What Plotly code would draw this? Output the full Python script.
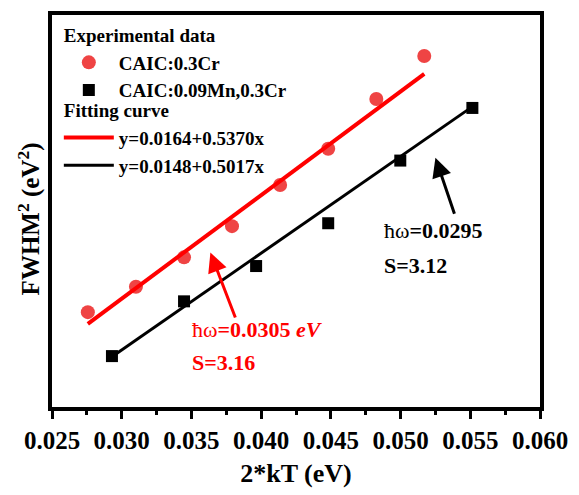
import plotly.graph_objects as go

# 2kT (eV) and FWHM^2 (eV^2) for the two samples
x_cr = [0.02757, 0.03102, 0.03447, 0.03791, 0.04136, 0.04481, 0.04826, 0.05170]
y_cr = [0.03181, 0.03313, 0.03465, 0.03627, 0.03840, 0.04028, 0.04286, 0.04509]

x_mn = [0.02930, 0.03447, 0.03964, 0.04481, 0.04998, 0.05515]
y_mn = [0.02953, 0.03237, 0.03420, 0.03642, 0.03967, 0.04240]

# linear fits: y = a + b*x
fit_cr = (0.0164, 0.5370)
fit_mn = (0.0148, 0.5017)

FONT = "Liberation Serif, Times New Roman, serif"


def fit_line(xs, coef):
    a, b = coef
    xe = [xs[0], xs[-1]]
    return xe, [a + b * v for v in xe]


fig = go.Figure()

fig.add_trace(go.Scatter(
    x=x_cr, y=y_cr, mode="markers", name="CAIC:0.3Cr",
    marker=dict(symbol="circle", size=14, color="#EF4444"),
    legend="legend", legendgroup="exp",
    legendgrouptitle=dict(text="Experimental data"),
))
fig.add_trace(go.Scatter(
    x=x_mn, y=y_mn, mode="markers", name="CAIC:0.09Mn,0.3Cr",
    marker=dict(symbol="square", size=12, color="black"),
    legend="legend", legendgroup="exp",
))

xl, yl = fit_line(x_cr, fit_cr)
fig.add_trace(go.Scatter(
    x=xl, y=yl, mode="lines", name="y=0.0164+0.5370x",
    line=dict(color="#FF0000", width=4),
    legend="legend2", legendgroup="fit",
    legendgrouptitle=dict(text="Fitting curve"),
))
xl, yl = fit_line(x_mn, fit_mn)
fig.add_trace(go.Scatter(
    x=xl, y=yl, mode="lines", name="y=0.0148+0.5017x",
    line=dict(color="black", width=3),
    legend="legend2", legendgroup="fit",
))

# arrows pointing at the fitted lines
fig.add_annotation(x=0.03636, y=0.03490, ax=0.03819, ay=0.03145,
                   xref="x", yref="y", axref="x", ayref="y", text="",
                   showarrow=True, arrowhead=2, arrowsize=1.3, arrowwidth=3,
                   arrowcolor="#FF0000")
fig.add_annotation(x=0.05250, y=0.03982, ax=0.05390, ay=0.03683,
                   xref="x", yref="y", axref="x", ayref="y", text="",
                   showarrow=True, arrowhead=2, arrowsize=1.3, arrowwidth=3,
                   arrowcolor="black")

lab_font_r = dict(family=FONT, size=22, color="#FF0000", weight="bold")
lab_font_k = dict(family=FONT, size=22, color="black", weight="bold")
fig.add_annotation(x=0.03489, y=0.03090, xanchor="left", yanchor="middle",
                   text="<span style='font-weight:normal'>ħω</span>=0.0305 <i>eV</i>",
                   showarrow=False, font=lab_font_r)
fig.add_annotation(x=0.03489, y=0.02918, xanchor="left", yanchor="middle",
                   text="S=3.16", showarrow=False, font=lab_font_r)
fig.add_annotation(x=0.04864, y=0.03602, xanchor="left", yanchor="middle",
                   text="<span style='font-weight:normal'>ħω</span>=0.0295",
                   showarrow=False, font=lab_font_k)
fig.add_annotation(x=0.04864, y=0.03424, xanchor="left", yanchor="middle",
                   text="S=3.12", showarrow=False, font=lab_font_k)

# y-axis title, placed as a rotated label beside the left axis
fig.add_annotation(x=-0.046, y=0.48, xref="paper", yref="paper",
                   xanchor="center", yanchor="middle", textangle=-90,
                   text="FWHM<sup>2</sup> (eV<sup>2</sup>)", showarrow=False,
                   font=dict(family=FONT, size=25, color="black", weight="bold"))

legend_style = dict(
    xanchor="left", yanchor="top",
    bgcolor="rgba(0,0,0,0)", borderwidth=0,
    font=dict(family=FONT, size=19, color="black", weight="bold"),
    grouptitlefont=dict(family=FONT, size=19, color="black", weight="bold"),
    traceorder="grouped", tracegroupgap=0, itemwidth=50,
)

fig.update_layout(
    width=579, height=495,
    margin=dict(l=52, r=30, t=11, b=83),
    paper_bgcolor="white", plot_bgcolor="white",
    font=dict(family=FONT, size=20, color="black", weight="bold"),
    showlegend=True,
    legend=dict(x=0.014, y=0.998, **legend_style),
    legend2=dict(x=0.014, y=0.806, **legend_style),
)

fig.update_xaxes(
    range=[0.025, 0.060], dtick=0.005, tick0=0.025, tickformat=".3f",
    showline=True, linewidth=4, linecolor="black", mirror=True,
    ticks="outside", ticklen=8, tickwidth=3, tickcolor="black",
    minor=dict(dtick=0.0025, ticks="outside", ticklen=4, tickwidth=3,
               tickcolor="black"),
    showgrid=False, zeroline=False,
    tickfont=dict(family=FONT, size=25, color="black", weight="bold"),
    title=dict(text="2*kT (eV)", standoff=12,
               font=dict(family=FONT, size=26, color="black", weight="bold")),
)
fig.update_yaxes(
    range=[0.02689, 0.04722],
    showline=True, linewidth=4, linecolor="black", mirror=True,
    ticks="", showticklabels=False, showgrid=False, zeroline=False,
)

fig.write_html("out.html")
